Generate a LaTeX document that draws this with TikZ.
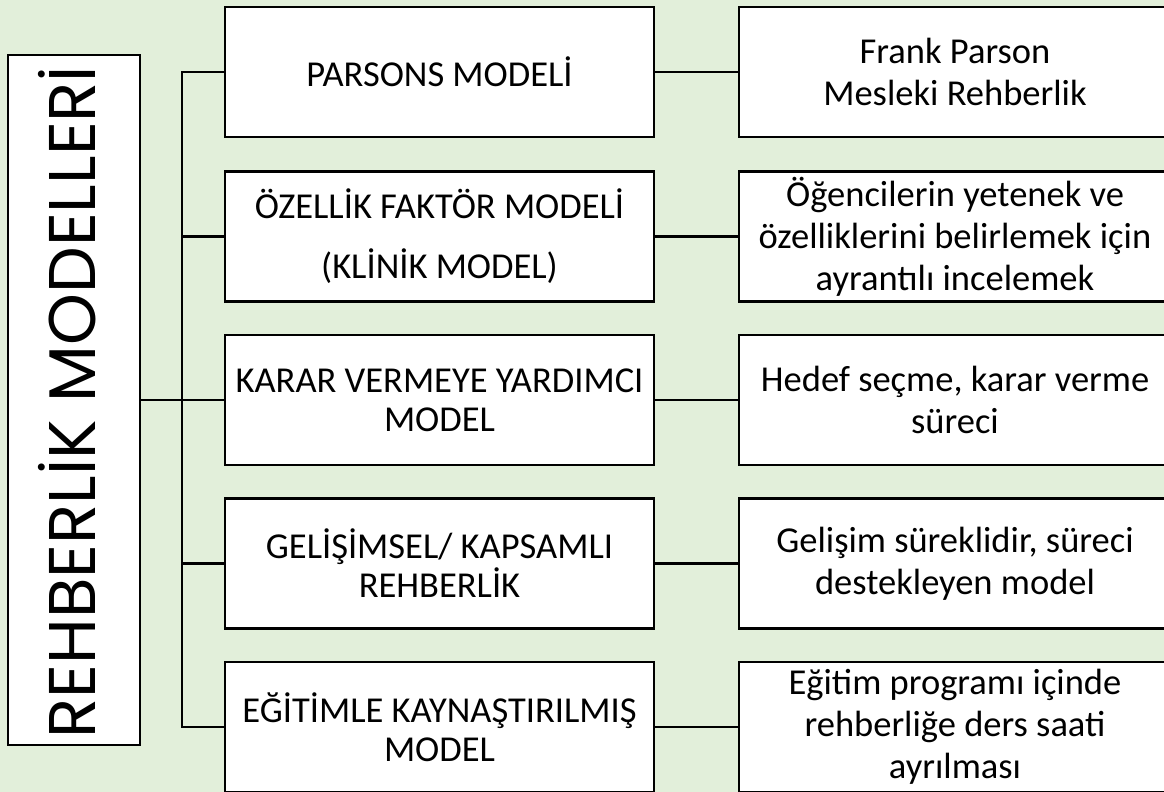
\documentclass[tikz,border=0pt]{standalone}
\usepackage{fontspec}
\setmainfont{Carlito}
\newfontfamily\gothicfont{Poppins}
\definecolor{bggreen}{HTML}{E2EFDA}
\begin{document}
\begin{tikzpicture}[x=1pt,y=-1pt,
  box/.style={draw=black,fill=white,line width=2.5pt,inner sep=0pt,outer sep=0pt,
    align=center,font=\fontsize{36.5}{39}\selectfont},
  midbox/.style={box,minimum width=429pt,minimum height=130pt},
  rightbox/.style={box,minimum width=432pt,minimum height=130pt,font=\fontsize{36.5}{42}\selectfont},
  conn/.style={draw=black,line width=2.2pt}]
\useasboundingbox (0,0) rectangle (1164,792);
\clip (0,0) rectangle (1164,792);
\fill[bggreen] (0,0) rectangle (1164,792);

% left title box
\node[box,minimum width=132pt,minimum height=690pt] (L) at (74,400) {};
\node[rotate=90,font=\gothicfont\fontsize{66}{66}\selectfont,inner sep=0pt] (Ltxt) at (67,402) {REHBERLİK MODELLERİ};

% middle boxes
\node[midbox] (m1) at (439.5,72) {PARSONS MODELİ};
\node[midbox] (m2) at (439.5,236.5) {ÖZELLİK FAKTÖR MODELİ\\[21pt](KLİNİK MODEL)};
\node[midbox] (m3) at (439.5,400) {KARAR VERMEYE YARDIMCI\\MODEL};
\node[midbox] (m4) at (439.5,563.5) {GELİŞİMSEL/ KAPSAMLI\\REHBERLİK};
\node[midbox] (m5) at (439.5,727) {EĞİTİMLE KAYNAŞTIRILMIŞ\\MODEL};

% right boxes
\node[rightbox] (r1) at (955,72) {Frank Parson\\Mesleki Rehberlik};
\node[rightbox] (r2) at (955,236.5) {Öğencilerin yetenek ve\\özelliklerini belirlemek için\\ayrantılı incelemek};
\node[rightbox] (r3) at (955,400) {Hedef seçme, karar verme\\süreci};
\node[rightbox] (r4) at (955,563.5) {Gelişim süreklidir, süreci\\destekleyen model};
\node[rightbox] (r5) at (955,727) {Eğitim programı içinde\\rehberliğe ders saati\\ayrılması};

% trunk
\coordinate (tr) at (182,72);
\draw[conn] (m1.west) -- (tr) |- (m5.west);
\draw[conn] (m2.west -| tr) -- (m2.west);
\draw[conn] (m4.west -| tr) -- (m4.west);
\draw[conn] (L.east) -- (m3.west);

% middle to right
\foreach \i in {1,...,5}{
  \draw[conn] (m\i.east) -- (r\i.west);
}
\end{tikzpicture}
\end{document}
